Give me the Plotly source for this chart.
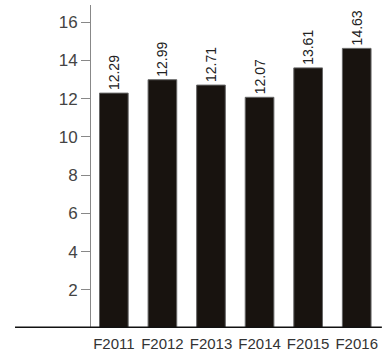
import plotly.graph_objects as go

categories = ["F2011", "F2012", "F2013", "F2014", "F2015", "F2016"]
values = [12.29, 12.99, 12.71, 12.07, 13.61, 14.63]
value_labels = ["12.29", "12.99", "12.71", "12.07", "13.61", "14.63"]
y_ticks = [2, 4, 6, 8, 10, 12, 14, 16]

FONT = "Liberation Sans, Arial, sans-serif"

fig = go.Figure()
fig.add_trace(go.Bar(
    x=categories,
    y=values,
    text=value_labels,
    textposition="outside",
    textangle=-90,
    constraintext="none",
    textfont=dict(family=FONT, size=14, color="#222222"),
    marker=dict(color="#18130f", line=dict(color="#666666", width=1)),
    width=0.59,
    cliponaxis=False,
    hoverinfo="skip",
))

fig.add_shape(
    type="line", xref="paper", yref="y",
    x0=-0.262, x1=1.003, y0=0, y1=0,
    line=dict(color="#111111", width=3),
)

fig.update_layout(
    width=391, height=358,
    margin=dict(l=91, r=10, t=5, b=30),
    paper_bgcolor="white", plot_bgcolor="white",
    showlegend=False,
    font=dict(family=FONT, color="#333333"),
)
fig.update_xaxes(
    type="category",
    range=[-0.47, 5.5],
    showgrid=False, zeroline=False, showline=False,
    ticks="", tickangle=0, automargin=False,
    ticklabelstandoff=5,
    tickfont=dict(family=FONT, size=15, color="#333333"),
    fixedrange=True,
)
fig.update_yaxes(
    range=[0, 16.9],
    tickvals=y_ticks,
    ticktext=[str(v) for v in y_ticks],
    showgrid=False, zeroline=False, automargin=False,
    showline=True, linecolor="#888888", linewidth=1,
    ticks="outside", ticklen=9, tickcolor="#888888", tickwidth=1,
    tickfont=dict(family=FONT, size=17, color="#444444"),
    fixedrange=True,
)

fig.write_html(
    "out.html",
    config={"displayModeBar": False},
    post_script="document.body.style.margin='0';document.body.style.padding='0';",
)
